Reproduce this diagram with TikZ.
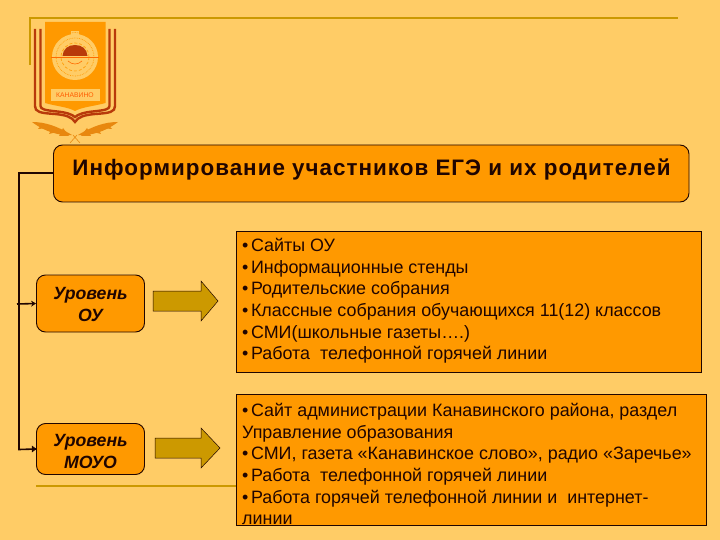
\documentclass[tikz,border=0pt]{standalone}
\usepackage{fontspec}
\setmainfont{Liberation Sans}
\newfontfamily\titlefont[LetterSpace=4.5]{Liberation Sans}
\usetikzlibrary{arrows.meta}
\definecolor{bgc}{HTML}{FFCC66}
\definecolor{orc}{HTML}{FF9900}
\definecolor{goldc}{HTML}{CC9900}
\definecolor{darkc}{HTML}{200500}
\definecolor{redc}{HTML}{B83A0A}
\definecolor{leafc}{HTML}{E8880F}
\newcommand{\bul}{•\kern2.6pt}
\tikzset{
  x=1pt,y=-1pt,
  titlebox/.style={draw=darkc,fill=orc,line width=0.9pt,rounded corners=9pt,inner sep=0pt,minimum width=635.5pt,minimum height=57pt},
  levelbox/.style={draw=darkc,fill=orc,line width=0.9pt,rounded corners=9pt,inner sep=0pt,minimum width=108pt},
  leveltext/.style={align=center,inner sep=0pt,font=\fontsize{17.7}{22}\selectfont\bfseries\itshape,text=darkc},
  infobox/.style={draw=darkc,fill=orc,line width=0.9pt,inner sep=0pt,text=darkc,anchor=north west,align=left},
  infotext/.style={font=\fontsize{17.9}{21.7}\selectfont,text=darkc,anchor=north west,align=left,inner sep=0pt},
  blockarrow/.style={draw=darkc,fill=goldc,line width=0.5pt},
  conn/.style={draw=darkc,line width=1.6pt},
  rulel/.style={draw=goldc,line width=1.6pt},
}
\begin{document}
\begin{tikzpicture}
\useasboundingbox (0,0) rectangle (720,540);
\fill[bgc] (0,0) rectangle (720,540);
% decorative rules
\draw[rulel] (30,65) -- (30,18) -- (678,18);
\draw[rulel] (36,486) -- (240,486);
% emblem: shield
\fill[orc] (45,22) -- (105.5,22) -- (105.5,103) .. controls (95,106) and (82,107) .. (75,111) .. controls (68,107) and (55,106) .. (45,103) -- cycle;
\foreach \o/\w in {0/2.4,5.5/2.4}{
  \draw[redc,line width=\w pt] (35+\o,29) -- (35+\o,106) .. controls (35+\o,112-\o*0.5) and (40+\o,113-\o*0.5) .. (55,114-\o*0.5) .. controls (66,115-\o*0.5) and (72,117-\o*0.5) .. (75,122-\o*0.9) .. controls (78,117-\o*0.5) and (84,115-\o*0.5) .. (95,114-\o*0.5) .. controls (110-\o,113-\o*0.5) and (115-\o,112-\o*0.5) .. (115-\o,106) -- (115-\o,29);
}
% emblem: gear and dome
\fill[bgc] (75,57) circle (23);
\fill[bgc] (71,31) rectangle (79,36);
\draw[orc,line width=0.7pt,densely dotted] (75,57) circle (24.5);
\draw[orc,line width=0.7pt,densely dotted] (75,57) circle (19);
\draw[orc,line width=0.6pt,densely dashed] (75,57) circle (14);
\fill[redc] (62.5,56) .. controls (63,49) and (68,45) .. (75,45) .. controls (82,45) and (87,49) .. (87.5,56) -- cycle;
\draw[orc!70!red,line width=0.6pt] (51,57) -- (99,57);
\draw[orc!70!red,line width=0.6pt] (68,61) .. controls (72,65) and (78,65) .. (82,61);
\node[fill=bgc,minimum width=49pt,minimum height=12pt,inner sep=0pt,font=\fontsize{6.8}{7}\selectfont,text=orc!60!red] (emb) at (75,95) {КАНАВИНО};
% emblem: wreath
\foreach \s in {1,-1}{
  \begin{scope}[shift={(75,0)},xscale=\s]
    \fill[leafc] (-43,122) .. controls (-30,122) and (-18,126) .. (-3,135) .. controls (-15,136) and (-30,132) .. (-43,122) -- cycle;
    \fill[leafc] (-32,124) -- (-37,129) -- (-26,128) -- cycle;
    \fill[leafc] (-22,127) -- (-26,134) -- (-14,131) -- cycle;
    \fill[leafc] (-12,128) -- (-6,136) -- (-16,136) -- cycle;
    \draw[leafc,line width=0.6pt] (2,135) -- (-5,143);
  \end{scope}
}
% connector
\coordinate (jt) at (19,173);
\coordinate (jb) at (19,449.5);
\coordinate (st) at (17,304);
% boxes
\node[titlebox] (title) at (371.25,173.5) {};
\node[font=\titlefont\fontsize{22.4}{24}\selectfont\bfseries,text=darkc,inner sep=0pt] (titletext) at (371.5,169) {Информирование участников ЕГЭ и их родителей};
\node[levelbox,minimum height=57pt] (lou) at (90.5,303.5) {};
\node[leveltext] (loutext) at (90.5,304.5) {Уровень\\ОУ};
\node[levelbox,minimum height=51pt] (lmo) at (90.5,449) {};
\node[leveltext] (lmotext) at (90.5,451) {Уровень\\МОУО};
\node[infobox,minimum width=465pt,minimum height=141pt] (ib1) at (235.5,231) {};
\node[infobox,minimum width=470pt,minimum height=131pt] (ib2) at (235.5,394) {};
\node[infotext] (t1) at (242,238) {\bul Сайты ОУ\\\bul Информационные стенды\\\bul Родительские собрания\\\bul Классные собрания обучающихся 11(12) классов\\\bul СМИ(школьные газеты….)\\\bul Работа\ \ телефонной горячей линии};
\node[infotext] (t2) at (242,403) {\bul Сайт администрации Канавинского района, раздел\\Управление образования\\\bul СМИ, газета «Канавинское слово», радио «Заречье»\\\bul Работа\ \ телефонной горячей линии\\\bul Работа горячей телефонной линии и\ \ интернет-\\линии};
% connectors
\draw[conn] (title.west |- jt) -- (jt) -- (jb) -- (lmo.west);
\draw[conn,-{Stealth[length=5pt,width=6pt]}] (st) -- (lou.west);
\draw[darkc,fill=darkc] (lmo.west) ++(-4,-3) -- ++(4,3) -- ++(-4,3) -- cycle;
% block arrows
\draw[blockarrow] (153,291) -- (201,291) -- (201,281) -- (218,301) -- (201,321) -- (201,311) -- (153,311) -- cycle;
\draw[blockarrow] (155,438) -- (201,438) -- (201,428) -- (220,448) -- (201,468) -- (201,458) -- (155,458) -- cycle;
\end{tikzpicture}
\end{document}
